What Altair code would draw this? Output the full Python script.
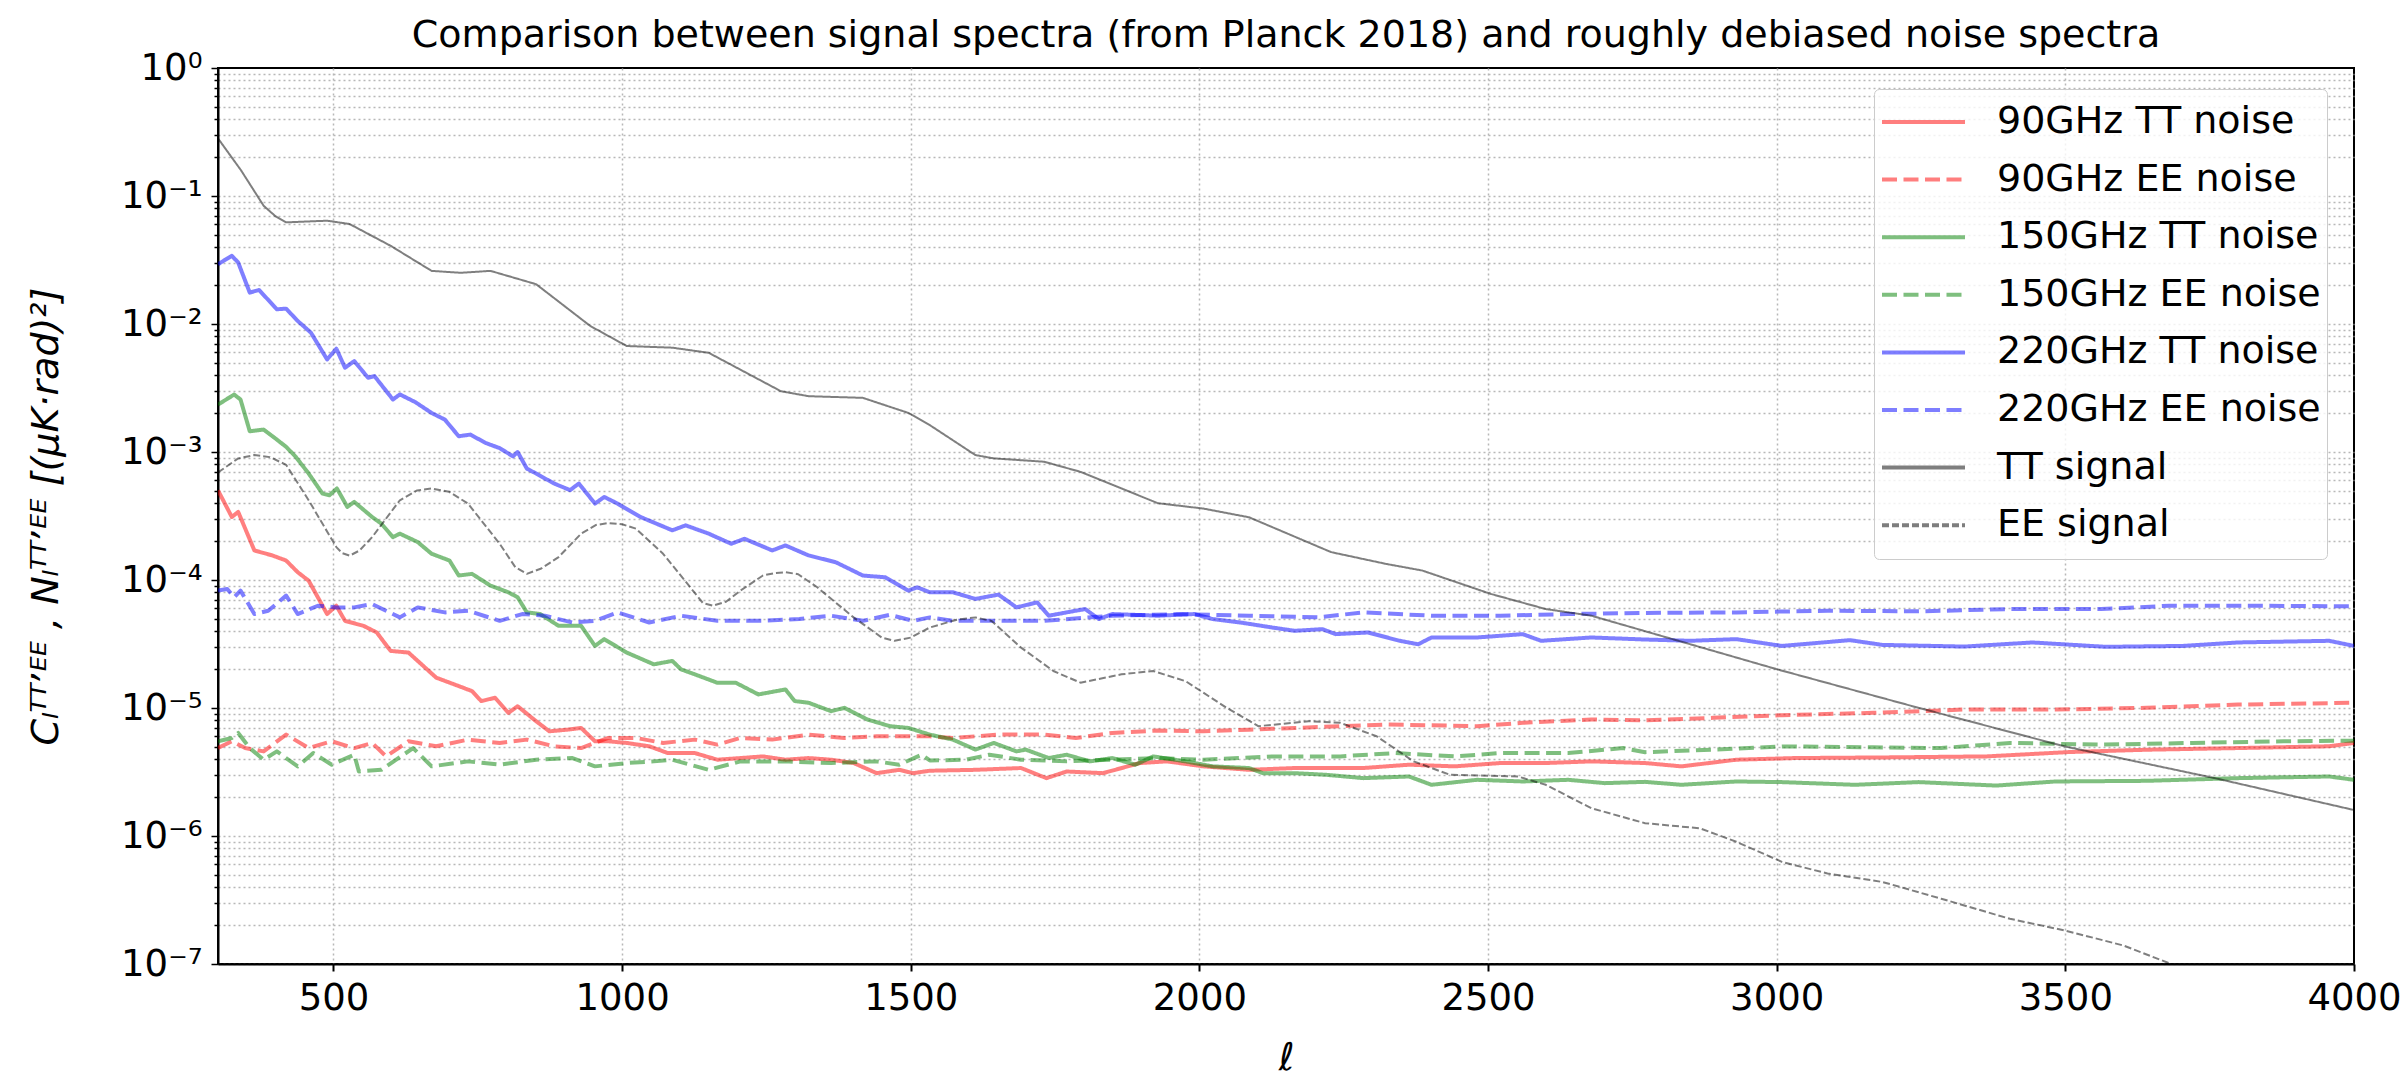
import altair as alt
import pandas as pd

# ---------------- data (ell, log10 of spectrum value) ----------------
SERIES = ["90GHz TT noise", "90GHz EE noise", "150GHz TT noise", "150GHz EE noise",
          "220GHz TT noise", "220GHz EE noise", "TT signal", "EE signal"]
COLORS = ["#ff0000", "#ff0000", "#008000", "#008000", "#0000ff", "#0000ff", "#000000", "#000000"]
DASHES = [[1, 0], [15, 6.5], [1, 0], [15, 6.5], [1, 0], [15, 6.5], [1, 0], [7, 3]]
WIDTHS = [4, 4, 4, 4, 4, 4, 2, 2]

ELL_TT_SIG = [300, 340, 379, 400, 418, 450, 489, 528, 599, 670, 720, 772, 851, 945, 1008, 1087, 1150,
              1275, 1323, 1417, 1496, 1533, 1612, 1644, 1731, 1794, 1928, 2007, 2086, 2228, 2323,
              2386, 2505, 2600, 2679, 2772, 3001, 3246, 3499, 3759, 4000]
LOG_TT_SIG = [-0.55, -0.80, -1.076, -1.16, -1.206, -1.20, -1.193, -1.219, -1.389, -1.585, -1.60,
              -1.585, -1.689, -2.016, -2.172, -2.185, -2.225, -2.525, -2.564, -2.577, -2.695, -2.79,
              -3.024, -3.05, -3.076, -3.155, -3.40, -3.442, -3.51, -3.782, -3.874, -3.926, -4.109,
              -4.227, -4.279, -4.40, -4.698, -4.999, -5.30, -5.548, -5.797]

ELL_EE_SIG = [300, 335, 363, 390, 418, 457, 505, 515, 528, 545, 567, 615, 645, 670, 700, 733, 788,
              815, 835, 860, 890, 929, 955, 976, 1000, 1024, 1071, 1118, 1140, 1157, 1180, 1205,
              1244, 1265, 1283, 1305, 1338, 1401, 1450, 1472, 1500, 1533, 1580, 1612, 1640, 1691,
              1747, 1794, 1865, 1920, 1976, 2047, 2102, 2189, 2244, 2307, 2371, 2434, 2552, 2600,
              2679, 2772, 2867, 2930, 3009, 3088, 3183, 3285, 3404, 3499, 3601, 3688, 3760]
LOG_EE_SIG = [-3.16, -3.05, -3.024, -3.04, -3.10, -3.377, -3.743, -3.79, -3.81, -3.77, -3.665,
              -3.377, -3.30, -3.285, -3.31, -3.403, -3.717, -3.90, -3.952, -3.91, -3.821, -3.638,
              -3.57, -3.555, -3.565, -3.599, -3.795, -4.057, -4.18, -4.201, -4.17, -4.083, -3.965,
              -3.945, -3.939, -3.955, -4.057, -4.292, -4.45, -4.475, -4.45, -4.371, -4.31, -4.292,
              -4.32, -4.528, -4.711, -4.802, -4.737, -4.711, -4.79, -4.998, -5.142, -5.103, -5.116,
              -5.221, -5.417, -5.522, -5.535, -5.60, -5.783, -5.90, -5.94, -6.045, -6.202, -6.293,
              -6.359, -6.49, -6.647, -6.738, -6.856, -7.008, -7.12]

ELL_220_TT = [300, 324, 335, 355, 371, 402, 418, 438, 461, 489, 505, 520, 536, 560, 571, 603, 615, 642,
              670, 693, 717, 737, 764, 788, 811, 819, 835, 851, 882, 910, 925, 953, 969, 992, 1032,
              1087, 1110, 1150, 1189, 1212, 1260, 1283, 1323, 1370, 1417, 1456, 1496, 1511, 1533,
              1573, 1612, 1652, 1683, 1719, 1739, 1770, 1802, 1826, 1849, 1928, 1991, 2023, 2071,
              2126, 2165, 2213, 2236, 2292, 2347, 2379, 2402, 2481, 2560, 2592, 2679, 2772, 2851,
              2930, 3009, 3127, 3183, 3325, 3443, 3570, 3704, 3799, 3957, 4000]
LOG_220_TT = [-1.533, -1.467, -1.52, -1.755, -1.734, -1.885, -1.88, -1.976, -2.068, -2.277, -2.193,
              -2.342, -2.29, -2.42, -2.407, -2.59, -2.55, -2.611, -2.695, -2.747, -2.877, -2.864,
              -2.93, -2.97, -3.034, -3.0, -3.13, -3.168, -3.246, -3.298, -3.246, -3.403, -3.351,
              -3.403, -3.508, -3.612, -3.573, -3.638, -3.717, -3.678, -3.769, -3.73, -3.808, -3.861,
              -3.965, -3.979, -4.083, -4.057, -4.096, -4.096, -4.148, -4.114, -4.214, -4.175,
              -4.279, -4.253, -4.227, -4.305, -4.266, -4.279, -4.266, -4.305, -4.332, -4.371,
              -4.397, -4.384, -4.423, -4.41, -4.475, -4.502, -4.449, -4.449, -4.423, -4.475,
              -4.449, -4.465, -4.475, -4.462, -4.515, -4.47, -4.507, -4.52, -4.488, -4.522, -4.515,
              -4.488, -4.475, -4.515]

ELL_220_EE = [300, 316, 328, 339, 363, 387, 418, 438, 473, 505, 536, 567, 615, 646, 693, 733, 788,
              827, 866, 914, 953, 992, 1047, 1102, 1165, 1244, 1307, 1362, 1417, 1464, 1504, 1533,
              1573, 1652, 1731, 1849, 1968, 2086, 2205, 2284, 2402, 2521, 2639, 2772, 2930, 3088,
              3246, 3404, 3562, 3680, 3838, 4000]
LOG_220_EE = [-4.083, -4.07, -4.135, -4.083, -4.266, -4.24, -4.122, -4.266, -4.201, -4.214, -4.214,
              -4.188, -4.292, -4.214, -4.253, -4.24, -4.319, -4.266, -4.279, -4.332, -4.319, -4.253,
              -4.332, -4.279, -4.319, -4.319, -4.305, -4.279, -4.319, -4.272, -4.319, -4.292,
              -4.319, -4.319, -4.319, -4.279, -4.266, -4.279, -4.292, -4.253, -4.279, -4.279,
              -4.266, -4.257, -4.253, -4.24, -4.245, -4.227, -4.227, -4.201, -4.201, -4.206]

ELL_150_TT = [300, 328, 339, 355, 379, 402, 418, 434, 457, 481, 493, 506, 524, 536, 567, 583, 603,
              615, 646, 670, 701, 717, 740, 772, 803, 819, 835, 858, 890, 929, 953, 969, 1008, 1055,
              1087, 1102, 1126, 1165, 1197, 1236, 1283, 1299, 1323, 1362, 1385, 1425, 1464, 1496,
              1533, 1573, 1612, 1644, 1683, 1699, 1739, 1770, 1810, 1849, 1889, 1920, 1976, 2023,
              2086, 2110, 2165, 2220, 2284, 2363, 2402, 2481, 2560, 2639, 2702, 2772, 2835, 2930,
              3009, 3135, 3246, 3380, 3483, 3641, 3799, 3957, 4000]
LOG_150_TT = [-2.63, -2.551, -2.59, -2.838, -2.825, -2.903, -2.96, -3.034, -3.168, -3.325, -3.338,
              -3.285, -3.429, -3.39, -3.508, -3.56, -3.665, -3.638, -3.704, -3.795, -3.848, -3.965,
              -3.952, -4.044, -4.096, -4.135, -4.253, -4.266, -4.358, -4.358, -4.515, -4.462,
              -4.567, -4.659, -4.632, -4.698, -4.737, -4.803, -4.803, -4.894, -4.855, -4.946,
              -4.959, -5.025, -4.999, -5.09, -5.142, -5.156, -5.208, -5.247, -5.325, -5.273,
              -5.339, -5.325, -5.391, -5.365, -5.417, -5.391, -5.443, -5.378, -5.417, -5.456,
              -5.469, -5.509, -5.509, -5.522, -5.548, -5.535, -5.6, -5.561, -5.574, -5.561, -5.587,
              -5.577, -5.6, -5.574, -5.579, -5.6, -5.579, -5.606, -5.574, -5.569, -5.548, -5.535,
              -5.561]

ELL_150_EE = [300, 324, 335, 355, 379, 402, 438, 465, 497, 536, 544, 583, 638, 670, 733, 788, 851,
              914, 953, 1008, 1055, 1087, 1150, 1205, 1283, 1362, 1441, 1480, 1519, 1533, 1596,
              1636, 1691, 1770, 1849, 1928, 2007, 2126, 2244, 2339, 2442, 2521, 2639, 2734, 2772,
              2890, 3009, 3167, 3285, 3404, 3562, 3720, 3878, 4000]
LOG_150_EE = [-5.26, -5.234, -5.195, -5.313, -5.404, -5.339, -5.456, -5.352, -5.443, -5.365, -5.496,
              -5.483, -5.313, -5.456, -5.417, -5.443, -5.404, -5.391, -5.456, -5.43, -5.417,
              -5.404, -5.483, -5.417, -5.417, -5.43, -5.417, -5.443, -5.365, -5.41, -5.404, -5.365,
              -5.404, -5.417, -5.404, -5.391, -5.404, -5.378, -5.378, -5.352, -5.378, -5.352,
              -5.352, -5.313, -5.345, -5.326, -5.3, -5.307, -5.313, -5.273, -5.286, -5.273, -5.26,
              -5.255]

ELL_90_TT = [300, 324, 335, 363, 394, 418, 438, 457, 489, 505, 520, 552, 575, 599, 630, 678, 709,
             740, 756, 780, 803, 819, 851, 874, 906, 929, 953, 976, 1008, 1047, 1079, 1126, 1165,
             1205, 1244, 1283, 1323, 1362, 1401, 1441, 1480, 1504, 1533, 1612, 1691, 1735, 1770,
             1833, 1897, 1944, 2007, 2086, 2165, 2284, 2363, 2442, 2521, 2600, 2679, 2772, 2835,
             2930, 3032, 3190, 3364, 3507, 3641, 3799, 3957, 4000]
LOG_90_TT = [-3.3, -3.508, -3.468, -3.769, -3.808, -3.848, -3.939, -4.005, -4.266, -4.201, -4.319,
             -4.358, -4.41, -4.554, -4.567, -4.763, -4.815, -4.868, -4.946, -4.92, -5.038, -4.986,
             -5.103, -5.182, -5.169, -5.156, -5.26, -5.26, -5.273, -5.299, -5.352, -5.352, -5.404,
             -5.391, -5.378, -5.404, -5.391, -5.404, -5.43, -5.509, -5.483, -5.509, -5.49, -5.483,
             -5.469, -5.548, -5.496, -5.509, -5.43, -5.417, -5.456, -5.483, -5.469, -5.469,
             -5.443, -5.456, -5.43, -5.43, -5.417, -5.43, -5.456, -5.404, -5.391, -5.386, -5.378,
             -5.344, -5.326, -5.313, -5.299, -5.273]

ELL_90_EE = [300, 324, 347, 379, 418, 457, 497, 536, 567, 591, 630, 678, 733, 788, 835, 882, 929,
             976, 1024, 1071, 1126, 1165, 1205, 1260, 1323, 1385, 1441, 1496, 1533, 1573, 1652,
             1731, 1786, 1849, 1928, 2007, 2086, 2165, 2244, 2323, 2402, 2481, 2560, 2679, 2772,
             2890, 3009, 3167, 3325, 3483, 3641, 3799, 4000]
LOG_90_EE = [-5.313, -5.26, -5.313, -5.339, -5.208, -5.313, -5.26, -5.313, -5.273, -5.378, -5.26,
             -5.299, -5.247, -5.273, -5.247, -5.299, -5.313, -5.234, -5.234, -5.273, -5.247,
             -5.286, -5.234, -5.247, -5.208, -5.234, -5.221, -5.221, -5.221, -5.234, -5.208,
             -5.208, -5.234, -5.195, -5.176, -5.182, -5.169, -5.156, -5.142, -5.129, -5.135,
             -5.142, -5.116, -5.09, -5.097, -5.077, -5.056, -5.038, -5.012, -5.012, -4.999,
             -4.973, -4.959]

X_TICKS = [500, 1000, 1500, 2000, 2500, 3000, 3500, 4000]
Y_LABELS = ["10\u2070", "10\u207b\u00b9", "10\u207b\u00b2", "10\u207b\u00b3",
            "10\u207b\u2074", "10\u207b\u2075", "10\u207b\u2076", "10\u207b\u2077"]

TITLE = "Comparison between signal spectra (from Planck 2018) and roughly debiased noise spectra"
Y_TITLE = "C\u2097\u1d40\u1d40\u02bc\u1d31\u1d31 , N\u2097\u1d40\u1d40\u02bc\u1d31\u1d31  [(\u03bcK\u00b7rad)\u00b2]"
X_TITLE = "\u2113"

# ---------------- build table ----------------
series_data = [
    (ELL_90_TT, LOG_90_TT), (ELL_90_EE, LOG_90_EE),
    (ELL_150_TT, LOG_150_TT), (ELL_150_EE, LOG_150_EE),
    (ELL_220_TT, LOG_220_TT), (ELL_220_EE, LOG_220_EE),
    (ELL_TT_SIG, LOG_TT_SIG), (ELL_EE_SIG, LOG_EE_SIG),
]
rows = []
for idx, (name, (ells, logs)) in enumerate(zip(SERIES, series_data)):
    for e, lv in zip(ells, logs):
        rows.append({"series": name, "ell": e, "val": 10 ** lv, "sw": WIDTHS[idx], "k": idx})
df = pd.DataFrame(rows)

y_values = [1.0]
for k in range(-1, -8, -1):
    for m in range(1, 10):
        y_values.append(m * 10.0 ** k)

is_decade = "abs(log(datum.value)/LN10 - round(log(datum.value)/LN10)) < 0.001"
label_arr = "[" + ",".join("'" + s + "'" for s in Y_LABELS) + "]"
y_label_expr = f"{is_decade} ? {label_arr}[round(-log(datum.value)/LN10)] : ''"

FONT = "DejaVu Sans"

legend_spec = dict(title=None, orient="none", legendX=1656, legendY=21,
                   direction="vertical", symbolType="stroke",
                   symbolSize=6889, symbolStrokeWidth=4, symbolOpacity=0.5,
                   clipHeight=54, rowPadding=3.6, labelOffset=30,
                   labelFontSize=38, labelFont=FONT, labelColor="black",
                   labelLimit=0, padding=6,
                   fillColor="rgba(255,255,255,0.8)", strokeColor="#cccccc",
                   cornerRadius=5)

lines = alt.Chart(df).mark_line(strokeOpacity=0.5, clip=True, strokeCap="butt", strokeJoin="round").encode(
    x=alt.X("ell:Q",
            scale=alt.Scale(domain=[300, 4000], nice=False, zero=False),
            axis=alt.Axis(values=X_TICKS, format="d", title=X_TITLE,
                          titleFontStyle="italic", titleFontSize=38, titleFontWeight="normal",
                          titleX=1068, titleY=94, titleBaseline="middle", titleAlign="center",
                          labelFontSize=37, labelPadding=9, tickSize=7, tickWidth=2,
                          labelFlush=False, labelOverlap=False,
                          grid=True, gridDash=[2, 3], gridColor="#b8b8b8", gridWidth=1.5,
                          gridOpacity={"condition": {"test": "datum.value >= 4000", "value": 0},
                                       "value": 1})),
    y=alt.Y("val:Q",
            scale=alt.Scale(type="log", domain=[1e-7, 1], nice=False),
            axis=alt.Axis(values=y_values, labelExpr=y_label_expr, title=Y_TITLE,
                          titleFontStyle="italic", titleFontSize=38, titleFontWeight="normal",
                          titleX=-172, titleY=448, titleAngle=270, titleAlign="center",
                          titleBaseline="middle",
                          labelFontSize=37, labelPadding=9,
                          tickSize={"condition": {"test": is_decade, "value": 7}, "value": 4},
                          tickWidth=1.5,
                          labelFlush=False, labelOverlap=False, labelBound=False,
                          grid=True, gridDash=[2, 3], gridColor="#b8b8b8", gridWidth=1.5,
                          gridOpacity={"condition": {"test": "datum.value >= 0.99", "value": 0},
                                       "value": 1})),
    color=alt.Color("series:N", sort=SERIES,
                    scale=alt.Scale(domain=SERIES, range=COLORS),
                    legend=alt.Legend(**legend_spec)),
    strokeDash=alt.StrokeDash("series:N", sort=SERIES,
                              scale=alt.Scale(domain=SERIES, range=DASHES),
                              legend=alt.Legend(**legend_spec)),
    strokeWidth=alt.StrokeWidth("sw:Q", scale=None),
    order=alt.Order("ell:Q"),
    detail="series:N",
)

chart = lines.properties(
    width=2136, height=896,
    padding={"left": 218, "top": 68, "right": 53, "bottom": 115},
    autosize=alt.AutoSizeParams(type="none"),
    background="white",
    title=alt.TitleParams(text=TITLE, font=FONT, fontSize=38, fontWeight="normal", color="black",
                          anchor="middle", frame="group", baseline="alphabetic", offset=6, dy=42),
).configure(
    font=FONT,
).configure_axis(
    labelFont=FONT, titleFont=FONT, labelColor="black", titleColor="black",
    domainColor="black", domainWidth=2, tickColor="black",
).configure_view(
    stroke="black", strokeWidth=2,
)

chart.save("out.html", embed_options={"renderer": "svg", "actions": False})
